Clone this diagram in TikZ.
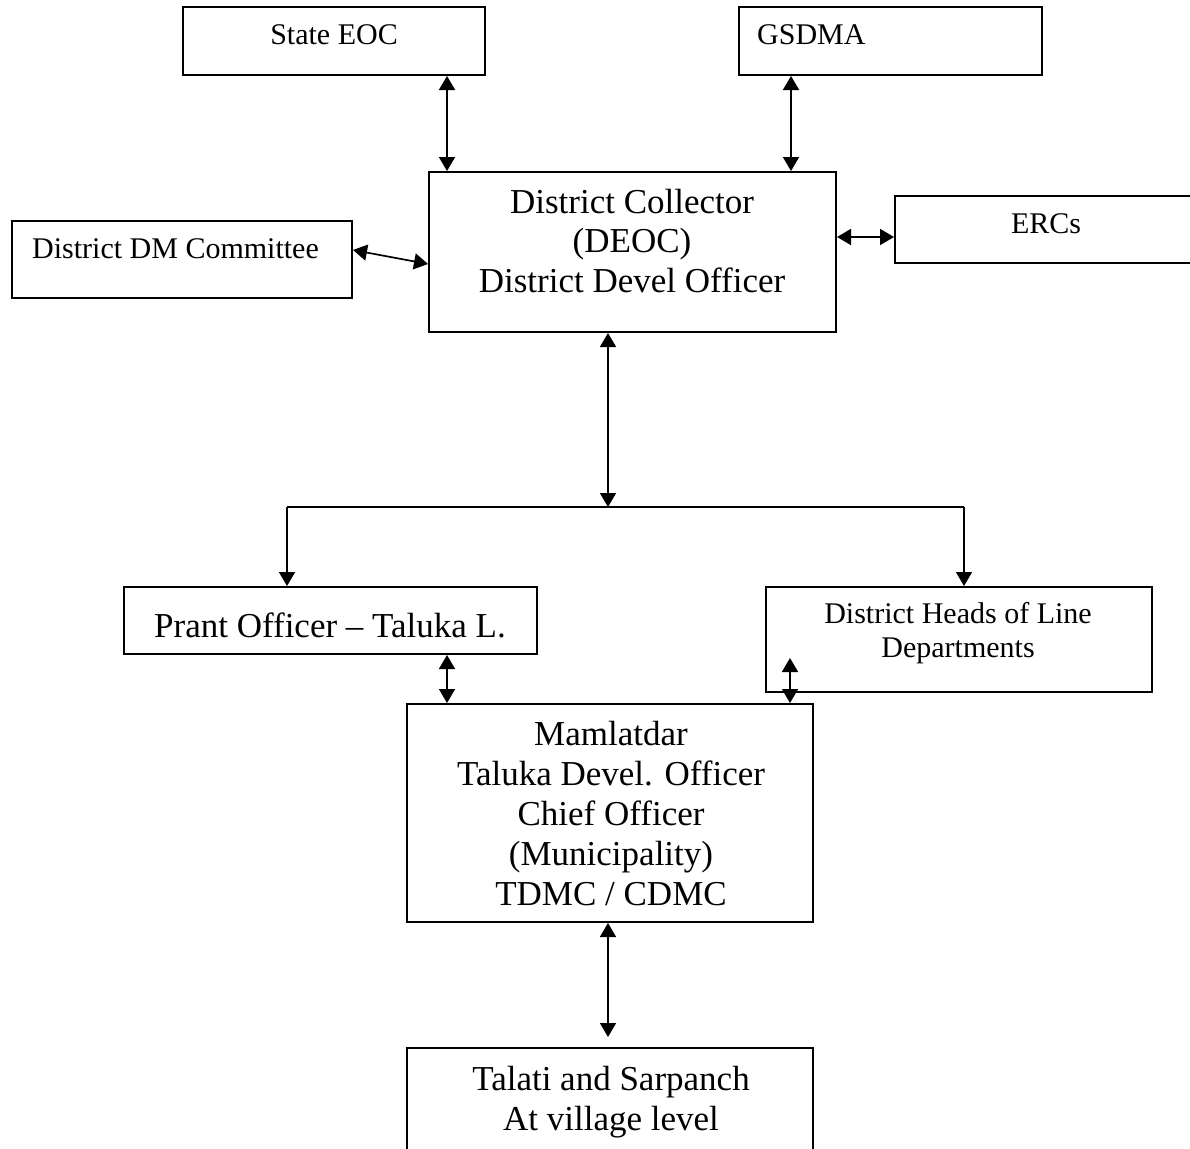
\documentclass[tikz,border=0pt]{standalone}
\usepackage{fontspec}
\setmainfont{Liberation Serif}
\usetikzlibrary{arrows.meta}

\begin{document}
\begin{tikzpicture}[x=1pt,y=-1pt,
  box/.style={draw, line width=2pt, inner sep=0pt},
  big/.style={inner sep=0pt, font=\fontsize{35}{40}\selectfont},
  small/.style={inner sep=0pt, font=\fontsize{30}{34}\selectfont},
  link/.style={line width=1.7pt},
  biarrow/.style={link, {Triangle[length=14pt,width=16pt]}-{Triangle[length=14pt,width=16pt]}},
  fwd/.style={link, -{Triangle[length=14pt,width=16pt]}}]

\fill[white] (0,0) rectangle (1190,1148);
\clip (0,0) rectangle (1190,1148);

% boxes
\node[box, minimum width=302pt, minimum height=68pt]  (seoc)  at (334,41)     {};
\node[box, minimum width=303pt, minimum height=68pt]  (gsdma) at (890.5,41)   {};
\node[box, minimum width=407pt, minimum height=160pt] (dc)    at (632.5,252)  {};
\node[box, minimum width=340pt, minimum height=77pt]  (ddm)   at (182,259.5)  {};
\node[box, minimum width=305pt, minimum height=67pt]  (ercs)  at (1047.5,229.5) {};
\node[box, minimum width=413pt, minimum height=67pt]  (prant) at (330.5,620.5) {};
\node[box, minimum width=386pt, minimum height=105pt] (dh)    at (959,639.5)  {};
\node[box, minimum width=406pt, minimum height=218pt] (mam)   at (610,813)    {};
\node[box, minimum width=406pt, minimum height=112pt] (tal)   at (610,1104)   {};

% labels
\node[small, anchor=base]      (seoc-t)  at (334,45)  {State EOC};
\node[small, anchor=base west] (gsdma-t) at (757,45)  {GSDMA};
\node[small, anchor=base west] (ddm-t)   at (32,258)  {District DM Committee};
\node[small, anchor=base]      (ercs-t)  at (1046,233) {ERCs};

\node[big, anchor=base] (dc-1) at (632,213) {District Collector};
\node[big, anchor=base] (dc-2) at (632,252) {(DEOC)};
\node[big, anchor=base] (dc-3) at (632,292) {District Devel Officer};

\node[big, anchor=base] (prant-t) at (330,637) {Prant Officer – Taluka L.};

\node[small, anchor=base] (dh-1) at (958,623) {District Heads of Line};
\node[small, anchor=base] (dh-2) at (958,657) {Departments};

\node[big, anchor=base] (mam-1) at (611,745) {Mamlatdar};
\node[big, anchor=base] (mam-2) at (611,785) {Taluka Devel. Officer};
\node[big, anchor=base] (mam-3) at (611,825) {Chief Officer};
\node[big, anchor=base] (mam-4) at (611,865) {(Municipality)};
\node[big, anchor=base] (mam-5) at (611,905) {TDMC / CDMC};

\node[big, anchor=base] (tal-1) at (611,1090) {Talati and Sarpanch};
\node[big, anchor=base] (tal-2) at (611,1130) {At village level};

% reference points for the connectors
\coordinate (xa) at (447,0);
\coordinate (xb) at (791,0);
\coordinate (xc) at (608,0);
\coordinate (xd) at (790,0);
\coordinate (ye) at (0,237);
\coordinate (jn) at (608,507);
\coordinate (jl) at (287,507);
\coordinate (jr) at (964,507);
\coordinate (dhin) at (790,658);

% connectors
\draw[biarrow] (seoc.south -| xa) -- (dc.north -| xa);
\draw[biarrow] (gsdma.south -| xb) -- (dc.north -| xb);
\draw[biarrow] ([yshift=9.5pt]ddm.east) -- ([yshift=-12pt]dc.west);
\draw[biarrow] (dc.east |- ye) -- (ercs.west |- ye);
\draw[biarrow] (dc.south -| xc) -- (jn);
\draw[link] (jl) -- (jr);
\draw[fwd] (jl) -- (prant.north -| jl);
\draw[fwd] (jr) -- (dh.north -| jr);
\draw[biarrow] (prant.south -| xa) -- (mam.north -| xa);
\draw[biarrow] (dhin) -- (mam.north -| xd);
\draw[biarrow] (mam.south -| xc) -- ([yshift=10pt]tal.north -| xc);

\end{tikzpicture}
\end{document}
